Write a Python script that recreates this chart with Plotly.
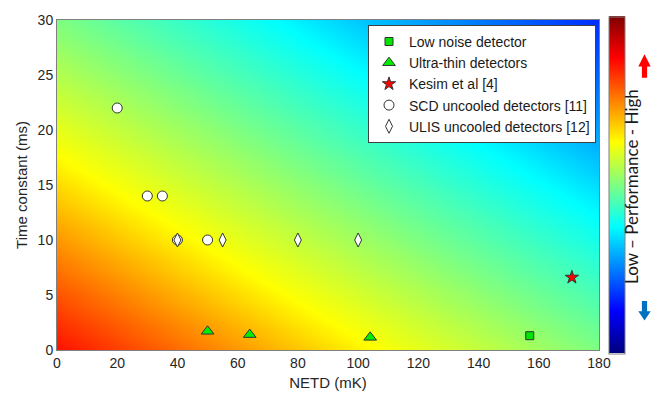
import numpy as np
import plotly.graph_objects as go

# ---- data ----
low_noise_netd = [157]
low_noise_tau = [1.3]

ultra_thin_netd = [50, 64, 104]
ultra_thin_tau = [1.7, 1.4, 1.15]

kesim_netd = [171]
kesim_tau = [6.6]

scd_netd = [20, 30, 35, 40, 50]
scd_tau = [22, 14, 14, 10, 10]

ulis_netd = [40, 55, 80, 100]
ulis_tau = [10, 10, 10, 10]

x_ticks = [0, 20, 40, 60, 80, 100, 120, 140, 160, 180]
y_ticks = [0, 5, 10, 15, 20, 25, 30]

# background "performance" field (colour stops along the diagonal)
diag_stops = [0.0, 0.59, 1.4, 2.0]
perf_stops = [0.86, 0.625, 0.375, 0.165]

jet = [[0.0, "rgb(0,0,128)"], [0.125, "rgb(0,0,255)"], [0.375, "rgb(0,255,255)"],
       [0.625, "rgb(255,255,0)"], [0.875, "rgb(255,0,0)"], [1.0, "rgb(128,0,0)"]]

gx = np.linspace(0, 180, 121)
gy = np.linspace(0, 30, 81)
GX, GY = np.meshgrid(gx, gy)
Z = np.interp(GX / 180 + GY / 30, diag_stops, perf_stops)

W, H = 654, 400
L, R, T, B = 57, 55, 14, 49
PW, PH = W - L - R, H - T - B


def px(x):
    return (x - L) / PW


def py(y):
    return (H - B - y) / PH


fig = go.Figure()
fig.add_trace(go.Heatmap(
    x=gx, y=gy, z=Z, zmin=0, zmax=1, colorscale=jet, zsmooth="best",
    hoverinfo="skip", showlegend=False,
    colorbar=dict(x=px(609), xanchor="left", xpad=0, ypad=0, thickness=16,
                  len=PH, lenmode="pixels", y=0.5, yanchor="middle",
                  outlinewidth=1, outlinecolor="#808080",
                  showticklabels=False, ticks=""),
))

mline = dict(color="#333333", width=1)
fig.add_trace(go.Scatter(x=low_noise_netd, y=low_noise_tau, mode="markers",
                         name="Low noise detector",
                         marker=dict(symbol="square", size=8, color="#00e600", line=mline)))
fig.add_trace(go.Scatter(x=ultra_thin_netd, y=ultra_thin_tau, mode="markers",
                         name="Ultra-thin detectors",
                         marker=dict(symbol="triangle-up", size=11, color="#00ee00", line=mline)))
fig.add_trace(go.Scatter(x=kesim_netd, y=kesim_tau, mode="markers",
                         name="Kesim et al [4]",
                         marker=dict(symbol="star", size=10, color="#ff0000", line=mline)))
fig.add_trace(go.Scatter(x=scd_netd, y=scd_tau, mode="markers",
                         name="SCD uncooled detectors [11]",
                         marker=dict(symbol="circle", size=10, color="white", line=mline)))
fig.add_trace(go.Scatter(x=ulis_netd, y=ulis_tau, mode="markers",
                         name="ULIS uncooled detectors [12]",
                         marker=dict(symbol="diamond-tall", size=10, color="white", line=mline)))

# arrows beside the colour bar
cx = 644.5
red_arrow = [(cx, 49), (cx + 6.2, 61.5), (cx + 2.6, 61.5), (cx + 2.6, 73),
             (cx - 2.6, 73), (cx - 2.6, 61.5), (cx - 6.2, 61.5)]
blue_arrow = [(cx, 321), (cx + 6.2, 311.5), (cx + 2.6, 311.5), (cx + 2.6, 301),
              (cx - 2.6, 301), (cx - 2.6, 311.5), (cx - 6.2, 311.5)]


def path(pts):
    return "M " + " L ".join(f"{px(a):.5f},{py(b):.5f}" for a, b in pts) + " Z"


shapes = [
    dict(type="path", xref="paper", yref="paper", path=path(red_arrow),
         fillcolor="#ff0000", line=dict(width=0)),
    dict(type="path", xref="paper", yref="paper", path=path(blue_arrow),
         fillcolor="#0070c0", line=dict(width=0)),
]

font_main = "Liberation Sans, Arial, sans-serif"
fig.update_layout(
    width=W, height=H, margin=dict(l=L, r=R, t=T, b=B),
    paper_bgcolor="white", plot_bgcolor="white",
    font=dict(family=font_main, size=14, color="#262626"),
    xaxis=dict(range=[0, 180], tickvals=x_ticks, showgrid=False, zeroline=False,
               showline=True, mirror=True, linecolor="#808080", linewidth=1,
               ticks="", tickfont=dict(size=14),
               title=dict(text="NETD (mK)", font=dict(size=15), standoff=7)),
    yaxis=dict(range=[0, 30], tickvals=y_ticks, showgrid=False, zeroline=False,
               showline=True, mirror=True, linecolor="#808080", linewidth=1,
               ticks="", tickfont=dict(size=14),
               title=dict(text="Time constant (ms)", font=dict(size=15), standoff=6)),
    legend=dict(x=px(368), y=py(19), xanchor="left", yanchor="top",
                bgcolor="white", bordercolor="#404040", borderwidth=1,
                font=dict(size=14, family=font_main, color="#1a1a1a"),
                tracegroupgap=0),
    shapes=shapes,
    annotations=[dict(x=px(644), y=py(184), xref="paper", yref="paper",
                      text="Low \u2013 Performance - High", textangle=-90,
                      showarrow=False, font=dict(family="Lato, Open Sans, sans-serif",
                                                 size=17, color="#1a1a1a"))],
)

fig.write_html("out.html")
